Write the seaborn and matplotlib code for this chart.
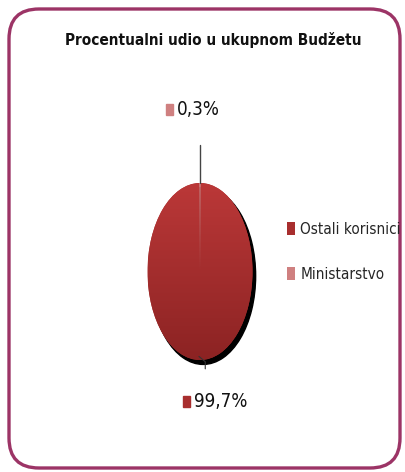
import numpy as np
import matplotlib
matplotlib.use('Agg')
import matplotlib.pyplot as plt
import seaborn as sns
from matplotlib.patches import FancyBboxPatch, Rectangle, Patch, Wedge

# data
categories = ['Ostali korisnici', 'Ministarstvo']
shares = [99.7, 0.3]
share_labels = ['99,7%', '0,3%']
title = 'Procentualni udio u ukupnom Budžetu'

top_colors = ['#bb3838', '#d98a8a']
bottom_colors = ['#8c2323', '#b86868']
legend_colors = ['#a82e2e', '#cf8080']

sns.set_theme(style='white')
plt.rcParams['font.family'] = ['DejaVu Sans']
plt.rcParams['font.stretch'] = 'condensed'

W, H = 405, 472
fig = plt.figure(figsize=(W / 100, H / 100), dpi=100)

# background axes in pixel units
bg = fig.add_axes([0, 0, 1, 1])
bg.set_xlim(0, W)
bg.set_ylim(H, 0)
bg.axis('off')
frame = FancyBboxPatch((9, 9), 391, 459, boxstyle='round,pad=0,rounding_size=30',
                       fill=False, edgecolor='#9c3466', linewidth=2.4)
bg.add_patch(frame)
bg.text(213, 40, title, ha='center', va='center', fontsize=11,
        fontweight='bold', fontstretch='condensed', color='#111111')

# pie axes, stretched so the pie becomes an ellipse
ax = fig.add_axes([147.5 / W, (H - 360) / H, 105 / W, 177 / H])
start = 90 + shares[1] * 360 / 100 / 2
wedges, _ = ax.pie(shares, startangle=start, colors=legend_colors,
                   wedgeprops=dict(linewidth=0))
ax.set_aspect('auto')
ax.axis('off')

# shadow + gradient fill clipped to each wedge
grad = np.linspace(0, 1, 256)[:, None]
sh = Wedge((0.06, -0.05), 1.0, 0, 360, color='black', zorder=0.5, clip_on=False)
ax.add_patch(sh)
for w, c0, c1 in zip(wedges, top_colors, bottom_colors):
    a = np.array(matplotlib.colors.to_rgb(c0))
    b = np.array(matplotlib.colors.to_rgb(c1))
    img = a[None, None, :] * (1 - grad[:, :, None]) + b[None, None, :] * grad[:, :, None]
    im = ax.imshow(np.repeat(img, 2, axis=1), extent=(-1, 1, -1, 1),
                   aspect='auto', zorder=2, origin='upper')
    im.set_clip_path(w)
ax.set_xlim(-1, 1)
ax.set_ylim(-1, 1)


def to_px(x, y):
    return bg.transData.inverted().transform(ax.transData.transform((x, y)))


# leader lines and data labels
label_r = {0: 1.47, 1: 1.83}
for i, w in enumerate(wedges):
    mid = np.deg2rad((w.theta1 + w.theta2) / 2)
    cx, cy = np.cos(mid), np.sin(mid)
    if i == 1:
        ax.plot([cx, cx * 1.43], [cy, cy * 1.43], color='#444444', lw=1, clip_on=False)
    else:
        ax.plot([cx - 0.02, cx + 0.1, cx + 0.1], [cy + 0.04, cy - 0.02, cy - 0.1],
                color='#333333', lw=0.8, clip_on=False)
    px, py = to_px(cx * label_r[i], cy * label_r[i])
    tx = px - 19 if i == 1 else px - 2
    bg.add_patch(Rectangle((tx - 15, py - 6), 7, 11, color=legend_colors[i]))
    bg.text(tx - 4, py, share_labels[i], ha='left', va='center',
            fontsize=13.5, fontstretch='condensed', color='#111111')

# legend
handles = [Patch(facecolor=c, edgecolor='none') for c in legend_colors]
fig.legend(handles, categories, loc='upper left', bbox_to_anchor=(273 / W, 1 - 208 / H),
           frameon=False, handlelength=0.55, handleheight=0.9,
           handletextpad=0.35, labelspacing=1.95,
           prop=dict(size=11, stretch='condensed'))

fig.savefig('out.png', dpi=100)
